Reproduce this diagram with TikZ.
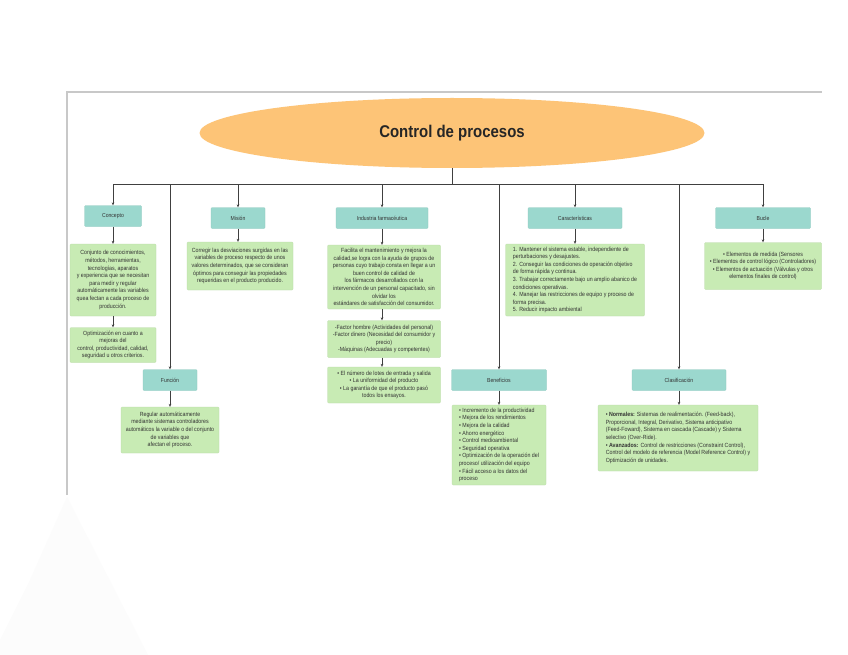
\documentclass[tikz,border=0pt]{standalone}
\usepackage{fontspec}
\setmainfont[FakeStretch=0.88]{Liberation Sans}
\usetikzlibrary{shapes.geometric,arrows.meta}
\definecolor{orangeT}{HTML}{FDC477}
\definecolor{tealB}{HTML}{9BD8CE}
\definecolor{greenB}{HTML}{C8EBB4}
\definecolor{lineC}{HTML}{404040}
\definecolor{frameC}{HTML}{C8C8C8}
\definecolor{txtC}{HTML}{333333}
\begin{document}
\begin{tikzpicture}[x=1pt,y=-1pt,
  headbox/.style={fill=tealB, draw=tealB!92!black, line width=0.3pt, minimum height=21pt, inner sep=1pt, font=\fontsize{5.8}{6.8}\selectfont, text=txtC, rounded corners=1pt},
  infobox/.style={fill=greenB, draw=greenB!92!black, line width=0.3pt, inner sep=2pt, font=\fontsize{6}{7.6}\selectfont, text=txtC, align=center, rounded corners=1pt},
  conn/.style={draw=lineC, line width=0.8pt, -{Stealth[length=3pt,width=2.6pt]}},
  plainline/.style={draw=lineC, line width=0.8pt},
]
\useasboundingbox (0,0) rectangle (848,655);
\fill[white] (0,0) rectangle (848,655);
% faint shadow bottom-left
\fill[black!1] (67,497) -- (30,580) -- (0,640) -- (0,655) -- (148,655) -- cycle;
% frame
\draw[frameC, line width=1.4pt] (67,495) -- (67,92) -- (822,92);

% title
\node[ellipse, fill=orangeT, minimum width=505pt, minimum height=70pt, inner sep=0pt,
      font=\fontsize{17}{19}\selectfont\bfseries, text=black!85] (title) at (452,133) {Control de procesos};
\coordinate (bus) at (452,184);

% heads
\node[headbox, minimum width=57pt] (concepto) at (113,216) {Concepto};
\node[headbox, minimum width=54pt] (funcion) at (170,380) {Función};
\node[headbox, minimum width=54pt] (mision) at (238,218) {Misión};
\node[headbox, minimum width=92pt] (industria) at (382,218) {Industria farmacéutica};
\node[headbox, minimum width=95pt] (beneficios) at (499,380) {Beneficios};
\node[headbox, minimum width=94pt] (caract) at (575,218) {Características};
\node[headbox, minimum width=94pt] (clasif) at (679,380) {Clasificación};
\node[headbox, minimum width=95pt] (bucle) at (763,218) {Bucle};

% info boxes
\node[infobox, minimum width=86pt, minimum height=72pt] (conceptoTxt) at (113,280)
  {Conjunto de conocimientos,\\ métodos, herramientas,\\ tecnologías, aparatos\\ y experiencia que se necesitan\\ para medir y regular\\ automáticamente las variables\\ quea fectan a cada proceso de\\ producción.};
\node[infobox, minimum width=86pt, minimum height=35pt] (optim) at (113,345)
  {Optimización en cuanto a\\ mejoras del\\ control, productividad, calidad,\\ seguridad u otros criterios.};
\node[infobox, minimum width=98pt, minimum height=46pt] (funcionTxt) at (170,430)
  {Regular automáticamente\\ mediante sistemas controladores\\ automáticos la variable o del conjunto\\ de variables que\\ afectan el proceso.};
\node[infobox, minimum width=106pt, minimum height=48pt] (misionTxt) at (240,266)
  {Corregir las desviaciones surgidas en las\\ variables de proceso respecto de unos\\ valores determinados, que se consideran\\ óptimos para conseguir las propiedades\\ requeridas en el producto producido.};
\node[infobox, minimum width=113pt, minimum height=64pt] (industriaTxt) at (384,277)
  {Facilita el mantenimiento y mejora la\\ calidad,se logra con la ayuda de grupos de\\ personas cuyo trabajo consta en llegar a un\\ buen control de calidad de\\ los fármacos desarrollados con la\\ intervención de un personal capacitado, sin\\ olvidar los\\ estándares de satisfacción del consumidor.};
\node[infobox, minimum width=113pt, minimum height=37pt] (factor) at (384,339)
  {-Factor hombre (Actividades del personal)\\ -Factor dinero (Necesidad del consumidor y\\ precio)\\ -Máquinas (Adecuadas y competentes)};
\node[infobox, minimum width=113pt, minimum height=36pt] (lotes) at (384,385)
  {• El número de lotes de entrada y salida\\ • La uniformidad del producto\\ • La garantía de que el producto pasó\\ todos los ensayos.};
\node[infobox, align=left, minimum width=94pt, minimum height=80pt] (beneficiosTxt) at (499,445)
  {• Incremento de la productividad\\ • Mejora de los rendimientos\\ • Mejora de la calidad\\ • Ahorro energético\\ • Control medioambiental\\ • Seguridad operativa\\ • Optimización de la operación del\\ proceso/ utilización del equipo\\ • Fácil acceso a los datos del\\ proceso};
\node[infobox, align=left, minimum width=139pt, minimum height=72pt] (caractTxt) at (575,280)
  {1. Mantener el sistema estable, independiente de\\ perturbaciones y desajustes.\\ 2. Conseguir las condiciones de operación objetivo\\ de forma rápida y continua.\\ 3. Trabajar correctamente bajo un amplio abanico de\\ condiciones operativas.\\ 4. Manejar las restricciones de equipo y proceso de\\ forma precisa.\\ 5. Reducir impacto ambiental};
\node[infobox, align=left, minimum width=160pt, minimum height=66pt] (clasifTxt) at (678,438)
  {• \textbf{Normales:} Sistemas de realimentación. (Feed-back),\\ Proporcional, Integral, Derivativo, Sistema anticipativo\\ (Feed-Foward), Sistema en cascada (Cascade) y Sistema\\ selectivo (Over-Ride).\\ • \textbf{Avanzados:} Control de restricciones (Constraint Control),\\ Control del modelo de referencia (Model Reference Control) y\\ Optimización de unidades.};
\node[infobox, minimum width=117pt, minimum height=47pt] (bucleTxt) at (763,266)
  {• Elementos de medida (Sensores\\ • Elementos de control lógico (Controladores)\\ • Elementos de actuación (Válvulas y otros\\ elementos finales de control)};

% connectors
\draw[plainline] (title.south) -- (bus);
\draw[conn] (bus) -| (concepto.north);
\draw[conn] (bus) -| (funcion.north);
\draw[conn] (bus) -| (mision.north);
\draw[conn] (bus) -| (industria.north);
\draw[conn] (bus) -| (beneficios.north);
\draw[conn] (bus) -| (caract.north);
\draw[conn] (bus) -| (clasif.north);
\draw[conn] (bus) -| (bucle.north);

\draw[conn] (concepto) -- (conceptoTxt);
\draw[conn] (conceptoTxt) -- (optim);
\draw[conn] (funcion) -- (funcionTxt);
\draw[conn] (mision.south) -- (mision.south |- misionTxt.north);
\draw[conn] (industria.south) -- (industria.south |- industriaTxt.north);
\draw[conn] (industriaTxt.south -| industria.south) -- (industria.south |- factor.north);
\draw[conn] (factor.south -| industria.south) -- (industria.south |- lotes.north);
\draw[conn] (beneficios) -- (beneficiosTxt);
\draw[conn] (caract) -- (caractTxt);
\draw[conn] (clasif.south) -- (clasif.south |- clasifTxt.north);
\draw[conn] (bucle) -- (bucleTxt);
\end{tikzpicture}
\end{document}
